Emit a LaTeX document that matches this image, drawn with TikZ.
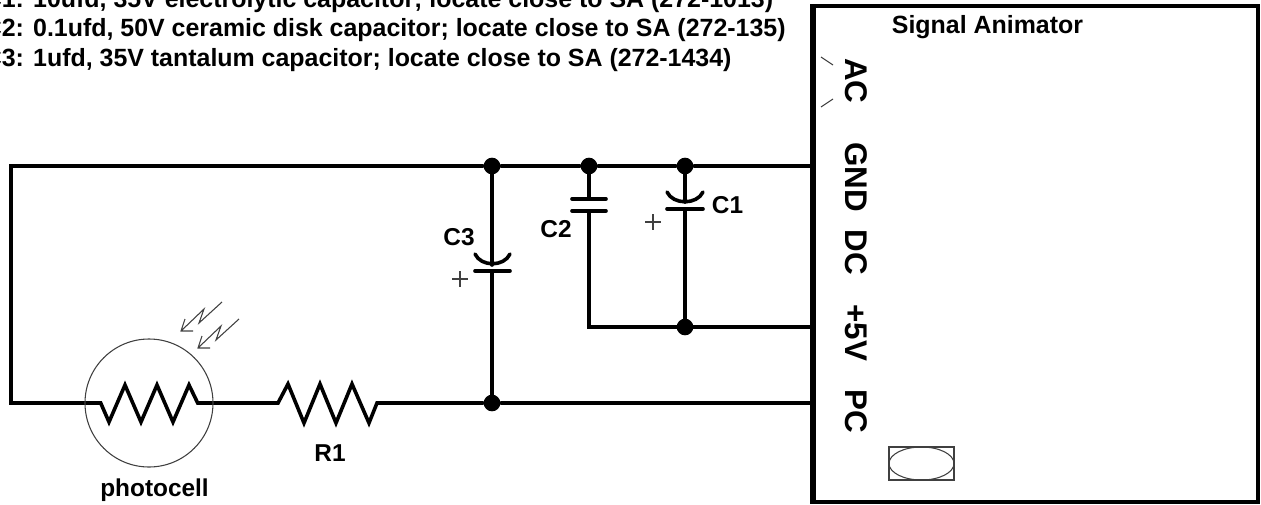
\documentclass[tikz,border=0pt]{standalone}
\usepackage{fontspec}
\usetikzlibrary{shapes.geometric}
\setmainfont{Liberation Sans}
\tikzset{
  wire/.style={line width=2.7pt,line cap=round,line join=miter,color=black},
  thin line/.style={line width=0.8pt,color=black!75},
  junction/.style={circle,fill=black,inner sep=0pt,minimum size=12.5pt},
  note/.style={anchor=base west,inner sep=0pt,font=\fontsize{18.7pt}{20pt}\selectfont\bfseries},
  lab/.style={inner sep=0pt,font=\fontsize{18.3pt}{20pt}\selectfont\bfseries},
  pin/.style={inner sep=0pt,rotate=-90,font=\fontsize{23.5pt}{26pt}\selectfont\bfseries},
  light/.style={thin line,line join=miter},
}
\begin{document}
\begin{tikzpicture}[x=0.75pt,y=-0.75pt]
\path[use as bounding box] (0,0) rectangle (1261,504);
\clip (0,0) rectangle (1261,504);
% notes
\node[note] (n1) at (-16.5,7) {C1: 10ufd, 35V electrolytic capacitor; locate close to SA (272-1013)};
\node[note] (n2) at (-16.5,36) {C2: 0.1ufd, 50V ceramic disk capacitor; locate close to SA (272-135)};
\node[note] (n3) at (-16.5,66) {C3: 1ufd, 35V tantalum capacitor; locate close to SA (272-1434)};
% box
\draw[line width=3.4pt,color=black] (813,6) -- (1258,6) -- (1258,502) -- (813,502) -- cycle;
\draw[line width=4.2pt,color=black] (813,4) -- (813,504);
\node[anchor=base,inner sep=0pt,font=\fontsize{18.7pt}{22pt}\selectfont\bfseries] (sa) at (987.5,33) {Signal Animator};
\node[pin] (ac) at (856,81) {AC};
\node[pin] (gnd) at (856,177) {GND};
\node[pin] (dc) at (856,252) {DC};
\node[pin] (v5) at (856,333) {+5V};
\node[pin] (pc) at (856,411) {PC};
\draw[thin line] (821,57) -- (833,65);
\draw[thin line] (821,107) -- (833,99);
\node[draw,thin line,rectangle,inner sep=0pt,minimum width=48.75pt,minimum height=24.75pt] (pot) at (921.5,463.5) {};
\node[draw,thin line,ellipse,inner sep=0pt,minimum width=48.75pt,minimum height=24.75pt] (potb) at (921.5,463.5) {};
% junctions
\node[junction] (j1) at (492,166) {};
\node[junction] (j2) at (589,166) {};
\node[junction] (j3) at (685,166) {};
\node[junction] (j4) at (685,327) {};
\node[junction] (j5) at (492,403) {};
\coordinate (gndp) at (813,166);
\coordinate (v5p) at (813,327);
\coordinate (pcp) at (813,403);
\coordinate (tl) at (11,166);
\coordinate (bl) at (11,403);
% wires
\draw[wire] (pcp) -- (j5) -- (377,403) -- (369,423) -- (352,384) -- (336,423) -- (320,384) -- (304,423) -- (288,384) -- (278,403)
  -- (197.7,403) -- (189,385) -- (173,422) -- (157,385) -- (141,422) -- (125,385) -- (109,422) -- (100.7,403) -- (bl) -- (tl) -- (j1) -- (j2) -- (j3) -- (gndp);
\draw[wire] (j4) -- (v5p);
\draw[wire] (j1) -- (492,265);
\draw[wire] (475,254) .. controls (481,267) and (504,267) .. (510,254);
\draw[wire] (475,271) -- (510,271);
\draw[wire] (492,271) -- (j5);
\draw[wire] (j2) -- (589,199);
\draw[wire] (572,199) -- (606,199);
\draw[wire] (572,211) -- (606,211);
\draw[wire] (589,211) -- (589,327) -- (j4);
\draw[wire] (j3) -- (685,202);
\draw[wire] (667,192) .. controls (673,205) and (697,205) .. (703,192);
\draw[wire] (667,209) -- (703,209);
\draw[wire] (685,209) -- (j4);
\draw[thin line] (452,279) -- (468,279) (460,271) -- (460,287);
\draw[thin line] (645,222) -- (661,222) (653,214) -- (653,230);
\node[lab] (c3) at (459,237) {C3};
\node[lab] (c2) at (556,229) {C2};
\node[lab] (c1) at (727.5,205) {C1};
\node[lab] (r1) at (330,453) {R1};
\node[lab] (ph) at (154.5,490) {photocell};
% photocell
\node[draw,thin line,circle,inner sep=0pt,minimum size=96pt] (pcell) at (149,403) {};
\draw[light] (222,302) -- (199,323) -- (204,309) -- (181,331) (185,319) -- (181,331) -- (193,331);
\draw[light] (239,319) -- (216,340) -- (221,326) -- (198,348) (202,336) -- (198,348) -- (210,348);
\end{tikzpicture}
\end{document}
